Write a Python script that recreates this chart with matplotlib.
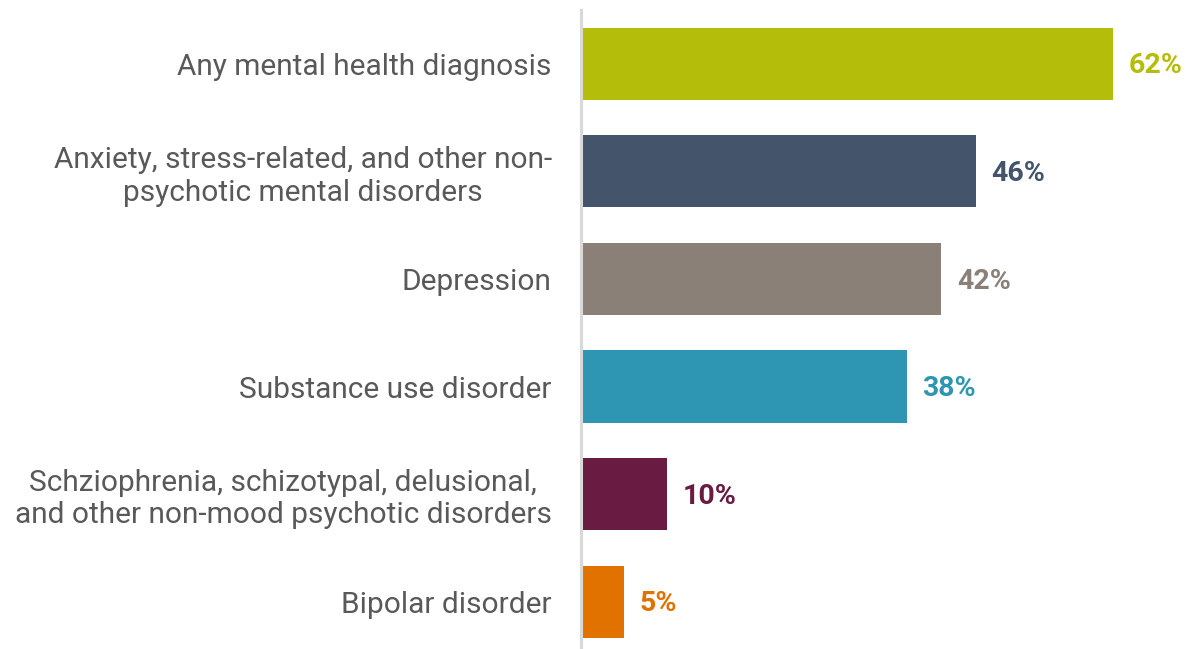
import matplotlib.pyplot as plt
import numpy as np

plt.rcParams['font.family'] = ['Roboto', 'DejaVu Sans']

labels = ["Any mental health diagnosis",
          "Anxiety, stress-related, and other non-\npsychotic mental disorders",
          "Depression",
          "Substance use disorder",
          "Schziophrenia, schizotypal, delusional,\nand other non-mood psychotic disorders",
          "Bipolar disorder"]
values = [62, 46, 42, 38, 10, 5]
colors = ["#b5bd0b", "#44546a", "#8b8077", "#2e95b3", "#6a1b42", "#e27200"]

fig = plt.figure(figsize=(11.87, 6.49), dpi=100)
ax = fig.add_axes([581 / 1187, 0, 606 / 1187, 639 / 649])

y = np.arange(len(values))
ax.barh(y, values, height=0.67, color=colors)
ax.set_xlim(0, 606 / 8.58)
ax.set_ylim(5.44, -0.5)

for yi, v, c in zip(y, values, colors):
    ax.text(v + 1.8, yi + 0.02, f"{v}%", va="center", ha="left", color=c,
            fontsize=20.5, fontweight="bold")

ax.set_yticks(y)
ax.set_yticklabels(labels, fontsize=21.5, color="#595959", multialignment="center",
                   linespacing=1.2)
ax.tick_params(axis="y", length=0, pad=21)
ax.set_xticks([])
for s in ["top", "right", "bottom"]:
    ax.spines[s].set_visible(False)
ax.spines["left"].set_color("#d9d9d9")
ax.spines["left"].set_linewidth(2.2)

fig.savefig("out.png", dpi=100)
